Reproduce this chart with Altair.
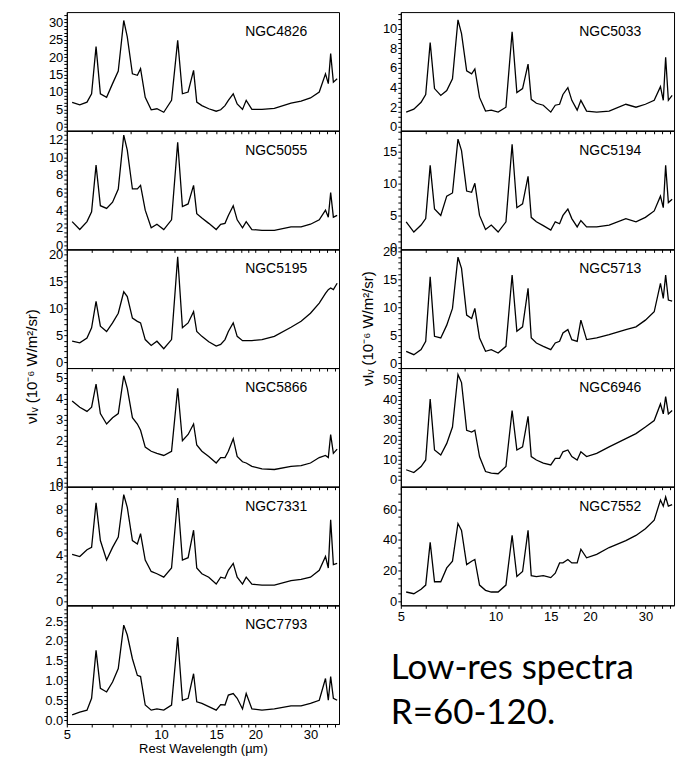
import altair as alt
import pandas as pd

# Rest wavelength grid (micron), shared by all spectra
WAVE = [5.2, 5.5, 5.8, 6.0, 6.2, 6.4, 6.7, 7.0, 7.3, 7.6,
        7.8, 8.1, 8.4, 8.6, 8.9, 9.3, 9.7, 10.2, 10.8, 11.3,
        11.7, 12.2, 12.7, 13.0, 13.5, 14.2, 15.0, 15.5, 16.0, 16.4,
        17.0, 17.5, 18.2, 18.7, 19.5, 21, 23, 26, 28, 30,
        32, 33.5, 34.2, 34.8, 35.5, 36.5]

NGC4826 = [7.0, 6.3, 7.1, 9.5, 23.0, 9.5, 8.5, 12.4, 16.0, 30.5,
           25.8, 15.2, 14.8, 16.7, 8.5, 4.9, 5.2, 4.2, 7.6, 24.8,
           9.5, 10.0, 16.2, 7.1, 6.1, 5.2, 4.5, 4.9, 6.1, 7.6,
           9.5, 6.6, 5.0, 7.6, 5.0, 5.0, 5.3, 6.8, 7.4, 8.3,
           10.0, 15.2, 12.4, 21.0, 12.8, 13.8]
NGC5055 = [2.7, 1.8, 2.7, 3.8, 9.1, 4.5, 4.2, 4.9, 6.4, 12.5,
           10.8, 6.4, 6.4, 6.8, 4.0, 2.0, 2.4, 1.8, 2.9, 11.7,
           4.4, 4.7, 6.8, 3.6, 3.1, 2.5, 1.8, 2.4, 2.5, 3.4,
           4.5, 2.9, 2.0, 2.7, 1.8, 1.7, 1.7, 2.1, 2.1, 2.4,
           2.9, 4.0, 3.2, 6.0, 3.2, 3.4]
NGC5195 = [3.9, 3.6, 4.5, 6.4, 11.3, 6.7, 5.7, 7.3, 9.1, 13.1,
           12.2, 8.2, 7.6, 7.3, 4.2, 3.1, 3.9, 2.5, 4.2, 19.6,
           6.4, 7.3, 9.4, 5.7, 4.8, 3.8, 3.0, 3.3, 4.2, 5.7,
           7.3, 4.8, 4.0, 4.0, 4.0, 4.2, 4.8, 6.5, 7.6, 9.1,
           11.0, 12.8, 13.5, 13.8, 13.5, 14.7]
NGC5866 = [3.9, 3.6, 3.4, 3.6, 4.7, 3.3, 2.8, 3.1, 3.3, 5.1,
           4.5, 3.1, 2.8, 2.5, 1.7, 1.5, 1.4, 1.3, 1.5, 4.5,
           2.0, 2.3, 2.8, 1.8, 1.5, 1.25, 0.94, 1.2, 1.2, 1.5,
           2.1, 1.25, 1.0, 0.94, 0.78, 0.66, 0.63, 0.78, 0.81, 0.94,
           1.2, 1.3, 1.2, 2.3, 1.4, 1.6]
NGC7331 = [4.1, 3.9, 4.5, 4.7, 8.6, 5.3, 3.6, 4.7, 5.6, 9.3,
           8.2, 5.3, 5.0, 5.9, 3.6, 2.6, 2.4, 2.1, 2.9, 9.0,
           3.6, 3.8, 6.2, 2.9, 2.4, 2.1, 1.5, 2.1, 2.0, 2.7,
           3.3, 2.1, 1.5, 2.1, 1.5, 1.4, 1.4, 1.8, 1.9, 2.1,
           2.7, 3.9, 2.9, 7.1, 3.2, 3.3]
NGC7793 = [0.13, 0.2, 0.25, 0.55, 1.76, 0.8, 0.71, 0.96, 1.3, 2.4,
           2.15, 1.55, 1.13, 1.1, 0.38, 0.25, 0.28, 0.25, 0.38, 2.1,
           0.5, 0.55, 1.17, 0.46, 0.42, 0.34, 0.25, 0.39, 0.38, 0.63,
           0.67, 0.55, 0.28, 0.67, 0.28, 0.25, 0.28, 0.36, 0.36, 0.42,
           0.5, 1.05, 0.5, 1.1, 0.55, 0.5]
NGC5033 = [1.5, 1.8, 2.5, 3.3, 8.6, 3.9, 3.2, 3.7, 4.9, 10.9,
           9.5, 5.7, 5.4, 5.9, 3.0, 1.6, 1.7, 1.5, 2.0, 9.7,
           3.5, 3.9, 6.4, 2.8, 2.4, 2.2, 1.5, 2.2, 2.3, 3.3,
           4.0, 2.7, 1.7, 2.7, 1.6, 1.5, 1.6, 2.3, 2.0, 2.3,
           2.7, 4.1, 2.7, 7.1, 2.7, 3.2]
NGC5194 = [4.0, 2.4, 3.5, 4.5, 12.8, 6.0, 5.0, 8.0, 8.5, 16.9,
           15.1, 8.8, 8.6, 10.0, 5.0, 2.8, 3.5, 2.4, 4.0, 16.1,
           6.2, 6.8, 11.1, 4.7, 4.0, 3.4, 2.7, 4.0, 3.7, 5.0,
           6.0, 4.5, 3.2, 4.2, 3.2, 3.2, 3.5, 4.5, 4.0, 4.7,
           5.7, 8.0, 6.2, 12.8, 7.0, 7.5]
NGC5713 = [2.1, 1.5, 2.4, 3.9, 15.5, 4.8, 4.5, 6.8, 9.8, 19.0,
           17.0, 8.6, 8.0, 9.8, 4.5, 2.1, 2.4, 1.8, 3.0, 15.8,
           5.7, 6.5, 13.4, 4.5, 3.6, 3.0, 2.4, 3.6, 3.9, 5.4,
           6.0, 4.2, 3.9, 7.7, 4.2, 4.5, 5.1, 6.0, 6.5, 7.7,
           9.2, 14.3, 11.6, 15.8, 11.3, 11.1]
NGC6946 = [5.0, 3.6, 6.6, 9.9, 40.4, 14.9, 12.4, 18.2, 26.4, 52.8,
           48.7, 24.8, 23.9, 24.8, 11.6, 4.1, 3.3, 3.0, 6.6, 34.7,
           14.9, 16.5, 31.8, 11.6, 9.9, 8.3, 7.4, 10.7, 10.7, 14.0,
           14.9, 11.6, 9.9, 14.0, 11.6, 13.2, 16.5, 20.6, 23.1, 26.4,
           29.7, 38.0, 33.0, 41.7, 33.0, 34.7]
NGC7552 = [6.0, 4.9, 7.8, 10.5, 38.4, 12.7, 12.7, 21.7, 26.1, 50.7,
           46.2, 23.9, 26.1, 27.2, 10.5, 7.1, 6.0, 6.0, 10.5, 42.9,
           16.1, 19.4, 46.2, 16.7, 16.1, 16.7, 15.4, 18.3, 25.0, 25.0,
           27.2, 25.0, 25.0, 33.9, 28.3, 30.6, 35.0, 39.5, 42.9, 47.3,
           52.9, 66.0, 62.0, 68.0, 62.0, 63.0]

SPECTRA = {
    "NGC4826": NGC4826, "NGC5055": NGC5055, "NGC5195": NGC5195,
    "NGC5866": NGC5866, "NGC7331": NGC7331, "NGC7793": NGC7793,
    "NGC5033": NGC5033, "NGC5194": NGC5194, "NGC5713": NGC5713,
    "NGC6946": NGC6946, "NGC7552": NGC7552,
}

X_TICKS = [5, 6, 7, 8, 9, 10, 11, 12, 13, 14, 15, 16, 17, 18, 19, 20,
           22, 24, 26, 28, 30, 32, 34, 36]
X_LABELS = [5, 10, 15, 20, 30]
X_DOMAIN = [5, 37]

# (name, ymin, ymax, major step, minor step, decimals of labels)
LEFT = [("NGC4826", -1.1, 32.9, 5, 1, 0),
        ("NGC5055", -0.45, 13.0, 2, 0.5, 0),
        ("NGC5195", -1.1, 21.0, 5, 1, 0),
        ("NGC5866", -0.19, 5.47, 1, 0.25, 0),
        ("NGC7331", -0.36, 10.0, 2, 0.5, 0),
        ("NGC7793", -0.1, 2.9, 0.5, 0.1, 1)]
RIGHT = [("NGC5033", -0.4, 11.7, 2, 0.5, 0),
         ("NGC5194", -0.3, 18.2, 5, 1, 0),
         ("NGC5713", -0.9, 20.4, 5, 1, 0),
         ("NGC6946", -3.5, 56.0, 10, 2, 0),
         ("NGC7552", -2.7, 74.7, 20, 5, 0)]

Y_TITLE = "\u03bdI\u1d65 (10\u207b\u2076 W/m\u00b2/sr)"
X_TITLE = "Rest Wavelength (\u00b5m)"

rows = []
for name, flux in SPECTRA.items():
    for w, f in zip(WAVE, flux):
        rows.append({"galaxy": name, "wave": w, "flux": f})
df = pd.DataFrame(rows)

FONT = "Liberation Sans"
PH = 119


def panel(spec, width, bottom, ytitle_y=None, ytitle_x=None, xtitle=None, extra=None):
    name, ymin, ymax, major, minor, dec = spec
    n = int(round(ymax / minor))
    yticks = [round(i * minor, 4) for i in range(0, n + 1) if i * minor <= ymax]
    lab = ("abs(datum.value/%s - round(datum.value/%s)) < 0.001 ? "
           "format(datum.value, '.%df') : ''" % (major, major, dec))
    xlab = "indexof(%s, datum.value) >= 0 ? format(datum.value, 'd') : ''" % str(X_LABELS)
    xaxis_kw = dict(values=X_TICKS, labelExpr=xlab, labels=bottom,
                    tickSize=3, labelPadding=2, labelOverlap=False, labelFlush=False)
    if xtitle:
        xaxis_kw.update(title=xtitle, titlePadding=1)
    yaxis_kw = dict(values=yticks, labelExpr=lab, tickSize=3,
                    labelPadding=1, labelOverlap=False, labelFlush=False)
    if ytitle_y is not None:
        yaxis_kw.update(title=Y_TITLE, titleY=ytitle_y, titleX=ytitle_x, titleFontSize=15,
                        titleAngle=270, titleBaseline="middle", titleAlign="center")
    line = alt.Chart(df).transform_filter(alt.datum.galaxy == name).mark_line(
        color="black", strokeWidth=1.3, clip=True
    ).encode(
        x=alt.X("wave:Q", scale=alt.Scale(type="log", domain=X_DOMAIN, nice=False),
                axis=alt.Axis(**xaxis_kw), title=xtitle if xtitle else None),
        y=alt.Y("flux:Q", scale=alt.Scale(domain=[ymin, ymax], nice=False, zero=False),
                axis=alt.Axis(**yaxis_kw), title=Y_TITLE if ytitle_y is not None else None),
    )
    label = alt.Chart(pd.DataFrame({"name": [name]})).mark_text(
        font=FONT, fontSize=14, align="center", baseline="middle", color="black"
    ).encode(text="name:N", x=alt.value(210), y=alt.value(20))
    layers = [line, label]
    if extra:
        layers += extra
    return alt.layer(*layers).properties(width=width, height=PH)


left_panels = []
for i, spec in enumerate(LEFT):
    last = i == len(LEFT) - 1
    left_panels.append(panel(spec, 273, last,
                             ytitle_y=117, ytitle_x=-35,
                             xtitle=X_TITLE if last else None) if i == 2 else
                       panel(spec, 273, last, xtitle=X_TITLE if last else None))

txt1 = alt.Chart(pd.DataFrame({"t": ["Low-res spectra"]})).mark_text(
    font="Lato", fontSize=35, align="left", baseline="alphabetic", color="black"
).encode(text="t:N", x=alt.value(-10), y=alt.value(193))
txt2 = alt.Chart(pd.DataFrame({"t": ["R=60-120."]})).mark_text(
    font="Lato", fontSize=35, align="left", baseline="alphabetic", color="black"
).encode(text="t:N", x=alt.value(-10), y=alt.value(238))

right_panels = []
for i, spec in enumerate(RIGHT):
    last = i == len(RIGHT) - 1
    right_panels.append(panel(spec, 274, last,
                              ytitle_y=79 if i == 2 else None, ytitle_x=-33,
                              extra=[txt1, txt2] if last else None))

left = alt.vconcat(*left_panels, spacing=0, bounds="flush")
right = alt.vconcat(*right_panels, spacing=0, bounds="flush")

chart = alt.hconcat(left, right, spacing=20).properties(
    padding={"left": 24, "top": 6, "right": 5, "bottom": 5},
    background="white",
).configure_view(
    stroke="black", strokeWidth=1
).configure_axis(
    labelFont=FONT, titleFont=FONT, labelFontSize=13, titleFontSize=13,
    labelColor="black", titleColor="black", tickColor="black", domainColor="black",
    titleFontWeight="normal", grid=False
)

chart.save("out.html", embed_options={"renderer": "svg", "actions": False})
